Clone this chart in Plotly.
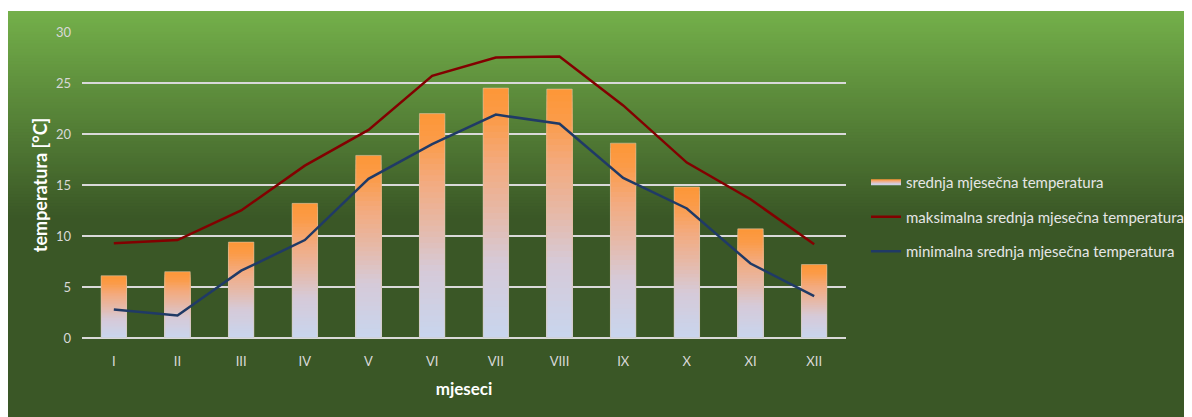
import plotly.graph_objects as go

months = ["I", "II", "III", "IV", "V", "VI", "VII", "VIII", "IX", "X", "XI", "XII"]
t_mean = [6.1, 6.5, 9.4, 13.2, 17.9, 22.0, 24.5, 24.4, 19.1, 14.8, 10.7, 7.2]
t_max = [9.3, 9.6, 12.5, 16.9, 20.4, 25.7, 27.5, 27.6, 22.8, 17.2, 13.6, 9.2]
t_min = [2.8, 2.2, 6.6, 9.6, 15.6, 19.0, 21.9, 21.0, 15.7, 12.7, 7.3, 4.1]

name_mean = "srednja mjesečna temperatura"
name_max = "maksimalna srednja mjesečna temperatura"
name_min = "minimalna srednja mjesečna temperatura"

W, H = 1192, 417
OFF = 8  # default page body margin
PL, PT, PW, PH = 82, 32, 765, 306  # plot area in screen pixels
ML, MT = PL - OFF, PT - OFF
MR = W - ML - PW
MB = H - MT - PH

FONT = "Lato"


def hex2rgb(h):
    h = h.lstrip("#")
    return tuple(int(h[i:i + 2], 16) for i in (0, 2, 4))


def interp(stops, t):
    for (p0, c0), (p1, c1) in zip(stops, stops[1:]):
        if p0 <= t <= p1:
            f = (t - p0) / (p1 - p0) if p1 > p0 else 0
            a, b = hex2rgb(c0), hex2rgb(c1)
            return "rgb(%d,%d,%d)" % tuple(round(a[i] + (b[i] - a[i]) * f) for i in range(3))
    return stops[-1][1]


bar_stops = [(0.0, "#c8d5ee"), (0.3, "#d6cad8"), (0.5, "#e6b9a8"),
             (0.7, "#f3aa7e"), (0.88, "#fb9b48"), (1.0, "#fd9737")]

fig = go.Figure()

N = 40
for k in range(N, 0, -1):
    frac = k / N
    col = interp(bar_stops, (k - 0.5) / N)
    fig.add_trace(go.Bar(
        x=months, y=[v * frac for v in t_mean],
        marker=dict(color=col, line=dict(width=0)),
        width=0.4, showlegend=False, legendgroup="g1", hoverinfo="skip",
    ))
# outline
fig.add_trace(go.Bar(
    x=months, y=t_mean, name=name_mean,
    marker=dict(color="rgba(0,0,0,0)", line=dict(width=1, color="rgba(215,200,175,0.55)")),
    width=0.4, legendgroup="g1", showlegend=False,
))
# legend entry with gradient swatch
fig.add_trace(go.Scatter(
    x=[None], y=[None], mode="none", name=name_mean, legendgroup="g1",
    fill="toself",
    fillgradient=dict(type="vertical",
                      colorscale=[[p, c] for p, c in bar_stops]),
    fillcolor="#f1b08e",
))
fig.add_trace(go.Scatter(
    x=months, y=t_max, name=name_max, mode="lines", legendgroup="g2",
    line=dict(color="#820000", width=2.5),
))
fig.add_trace(go.Scatter(
    x=months, y=t_min, name=name_min, mode="lines", legendgroup="g3",
    line=dict(color="#203a66", width=2.5),
))


def px2x(px):
    return (px - PL) / PW


def py2y(py):
    return (PT + PH - py) / PH


# background gradient (decorative): dark base, then strips drawn bottom-up,
# each extending to the top so no seams appear
shapes = []
top_c, dark_c = "#74b04a", "#3a5726"
y0p, y1p = 11, 218
shapes.append(dict(type="rect", xref="paper", yref="paper", layer="below",
                   x0=px2x(7), x1=px2x(W + 20), y0=py2y(H + 20), y1=py2y(y0p),
                   fillcolor=dark_c, line=dict(width=0)))
S = 70
for i in range(S - 1, -1, -1):
    b = y0p + (y1p - y0p) * (i + 1) / S
    col = interp([(0, top_c), (1, dark_c)], (i + 0.5) / S)
    shapes.append(dict(type="rect", xref="paper", yref="paper", layer="below",
                       x0=px2x(7), x1=px2x(W + 20), y0=py2y(b), y1=py2y(y0p),
                       fillcolor=col, line=dict(width=0)))

fig.update_layout(
    width=W, height=H,
    margin=dict(l=ML, r=MR, t=MT, b=MB, pad=0),
    paper_bgcolor="white", plot_bgcolor="rgba(0,0,0,0)",
    barmode="overlay", shapes=shapes,
    font=dict(family=FONT, color="#d9d9d9", size=13),
    legend=dict(x=px2x(866), xanchor="left", y=py2y(217), yanchor="middle",
                traceorder="grouped", tracegroupgap=12, bgcolor="rgba(0,0,0,0)",
                font=dict(family=FONT, size=15, color="#e6e6e6"), itemwidth=30),
    xaxis=dict(type="category", range=[-0.5, 11.5], showgrid=False, zeroline=False,
               showline=False, ticks="", ticklabelstandoff=14,
               tickfont=dict(size=13, color="#d9d9d9"),
               title=dict(text="<b>mjeseci</b>", standoff=15,
                          font=dict(size=17, color="white", family=FONT))),
    yaxis=dict(range=[0, 30], dtick=5, showgrid=True, gridcolor="#d9d9d9", gridwidth=2,
               zeroline=True, zerolinecolor="#d9d9d9", zerolinewidth=2,
               showline=False, ticks="", ticklabelstandoff=10,
               tickfont=dict(size=13, color="#d9d9d9"),
               title=dict(text="<b>temperatura [°C]</b>", standoff=3,
                          font=dict(size=18, color="white", family=FONT))),
)

fig.write_html("out.html")
